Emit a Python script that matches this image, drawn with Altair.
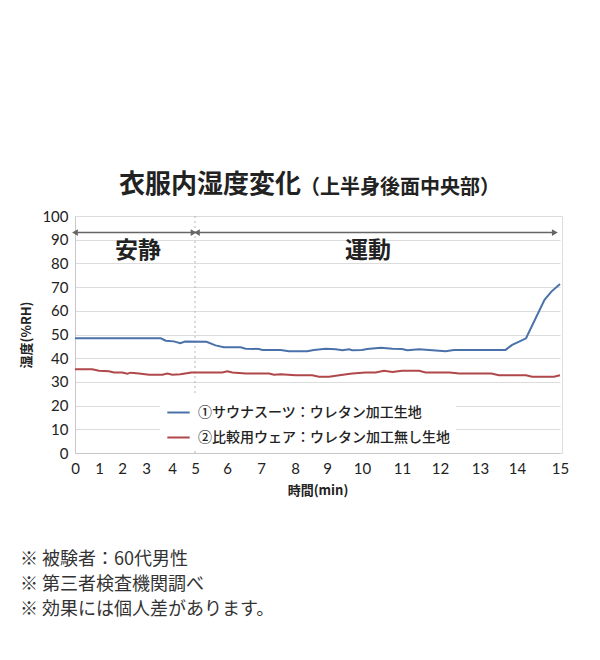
import altair as alt
import pandas as pd

# ---- data -------------------------------------------------------------
minutes = list(range(16))
# pixel positions of the (unevenly spaced) minute ticks in the original chart
tick_px = [0, 24, 47, 71, 97, 120, 152, 186, 220, 252, 287, 327, 365, 405, 442, 485]
y_ticks = list(range(0, 101, 10))

series_names = ["①サウナスーツ：ウレタン加工生地", "②比較用ウェア：ウレタン加工無し生地"]
series_colors = ["#4a72aa", "#b0474b"]

suit_t = [0, 3.57, 3.76, 4.08, 4.36, 4.57, 5.36, 5.64, 5.90, 6.40, 6.55, 6.94, 7.04,
          7.58, 7.82, 8.38, 8.59, 8.96, 9.25, 9.44, 9.63, 9.72, 10.0, 10.13, 10.47,
          10.76, 11.0, 11.14, 11.45, 11.71, 12.14, 12.35, 13.69, 13.87, 14.05, 14.21,
          14.64, 14.80, 15.0]
suit_v = [48.4, 48.4, 47.4, 47.1, 46.3, 47.0, 46.9, 45.4, 44.6, 44.6, 44.0, 43.9, 43.5,
          43.5, 42.9, 42.9, 43.5, 44.0, 43.8, 43.4, 43.8, 43.4, 43.5, 43.9, 44.4,
          44.0, 43.9, 43.4, 43.8, 43.5, 42.9, 43.5, 43.5, 45.6, 47.0, 48.4,
          64.6, 68.1, 71.3]

comp_t = [0, 0.72, 1.0, 1.43, 1.65, 2.01, 2.22, 2.36, 2.71, 3.12, 3.63, 3.82, 4.01,
          4.36, 4.85, 5.85, 6.01, 6.16, 6.55, 7.24, 7.38, 7.58, 8.02, 8.54, 8.75,
          9.06, 9.35, 9.72, 10.09, 10.34, 10.55, 10.76, 11.0, 11.45, 11.62, 12.24,
          12.48, 13.31, 13.51, 14.21, 14.35, 14.86, 15.0]
comp_v = [35.3, 35.3, 34.7, 34.5, 34.0, 34.0, 33.5, 33.9, 33.5, 33.0, 33.0, 33.5, 33.0,
          33.2, 34.0, 34.0, 34.5, 34.0, 33.5, 33.5, 33.0, 33.2, 32.8, 32.8, 32.2,
          32.2, 32.8, 33.5, 34.0, 34.0, 34.7, 34.2, 34.7, 34.7, 34.0, 34.0,
          33.5, 33.5, 32.8, 32.8, 32.2, 32.2, 32.8]

phase_split = [5]
arrow_start = [0, 5.06]
arrow_end = [4.94, 14.88]
arrow_level = [93, 93]
phase_labels = ["安静", "運動"]

title_main = "衣服内湿度変化"
title_sub = "（上半身後面中央部）"
notes = ["※ 被験者：60代男性", "※ 第三者検査機関調べ", "※ 効果には個人差があります。"]

# ---- tables -----------------------------------------------------------
df = pd.concat([
    pd.DataFrame({"t": suit_t, "v": suit_v, "series": series_names[0]}),
    pd.DataFrame({"t": comp_t, "v": comp_v, "series": series_names[1]}),
])
df_arrow = pd.DataFrame({"s": arrow_start, "e": arrow_end, "y": arrow_level})
df_split = pd.DataFrame({"t": phase_split})

JP = "Noto Sans CJK JP"

xscale = alt.Scale(domain=minutes, range=tick_px, nice=False, zero=False)
yscale = alt.Scale(domain=[0, 100], nice=False)

xaxis = alt.Axis(values=minutes, tickCount=16, grid=False, ticks=False, domainColor="#c8c8c8",
                 labelFont="Lato", labelFontSize=15, labelColor="#222", labelPadding=8,
                 labelFlush=False, labelOverlap=False, titleFont=JP, titleFontSize=13,
                 titleFontWeight="bold", titleColor="#222", titlePadding=8)
yaxis = alt.Axis(values=y_ticks, tickCount=11, grid=True, gridColor="#dcdcdc",
                 ticks=False, domainColor="#c8c8c8", labelFont="Lato", labelFontSize=15,
                 labelColor="#222", labelPadding=7, labelOverlap=False, labelFlush=False,
                 titleFont=JP, titleFontSize=13,
                 titleFontWeight="bold", titleColor="#222", titlePadding=8)


def X(field):
    return alt.X(field, scale=xscale, axis=xaxis, title="時間(min)")


def Y(field):
    return alt.Y(field, scale=yscale, axis=yaxis, title="湿度(%RH)")


lines = alt.Chart(df).mark_line(strokeWidth=2).encode(
    x=X("t:Q"),
    y=Y("v:Q"),
    color=alt.Color("series:N",
                    scale=alt.Scale(domain=series_names, range=series_colors),
                    legend=alt.Legend(title=None, orient="none", legendX=85, legendY=178,
                                      fillColor="white", padding=6,
                                      symbolType="stroke", symbolSize=500,
                                      symbolStrokeWidth=2, labelFont=JP,
                                      labelFontSize=14, labelFontWeight=500,
                                      labelColor="#222", labelOffset=7, rowPadding=5,
                                      labelLimit=400)),
)

split = alt.Chart(df_split).mark_rule(color="#b5b5b5", strokeDash=[2, 3], strokeWidth=1).encode(
    x=X("t:Q")
)

arrow_line = alt.Chart(df_arrow).mark_rule(color="#666", strokeWidth=1.5).encode(
    x=X("s:Q"), x2="e:Q", y=Y("y:Q")
)
head_l = alt.Chart(df_arrow).mark_point(shape="triangle-left", filled=True, size=45,
                                         color="#666", opacity=1).encode(
    x=X("s:Q"), y=Y("y:Q")
)
head_r = alt.Chart(df_arrow).mark_point(shape="triangle-right", filled=True, size=45,
                                         color="#666", opacity=1).encode(
    x=X("e:Q"), y=Y("y:Q")
)

phase_rest = alt.Chart(pd.DataFrame({"label": [phase_labels[0]]})).mark_text(
    font=JP, fontSize=23, fontWeight="bold", color="#222", align="center", baseline="middle"
).encode(text="label:N", x=alt.value(63), y=alt.value(35))
phase_ex = alt.Chart(pd.DataFrame({"label": [phase_labels[1]]})).mark_text(
    font=JP, fontSize=23, fontWeight="bold", color="#222", align="center", baseline="middle"
).encode(text="label:N", x=alt.value(293), y=alt.value(35))

t_main = alt.Chart(pd.DataFrame({"label": [title_main]})).mark_text(
    font=JP, fontSize=26, fontWeight="bold", color="#222", align="left", baseline="middle"
).encode(text="label:N", x=alt.value(44), y=alt.value(-31))
t_sub = alt.Chart(pd.DataFrame({"label": [title_sub]})).mark_text(
    font=JP, fontSize=20, fontWeight="bold", color="#222", align="left", baseline="middle"
).encode(text="label:N", x=alt.value(225), y=alt.value(-28))

notes_text = alt.Chart(pd.DataFrame({"label": ["\n".join(notes)]})).mark_text(
    font=JP, fontSize=18, color="#333", align="left", baseline="alphabetic",
    lineBreak="\n", lineHeight=25
).encode(text="label:N", x=alt.value(-55), y=alt.value(349))

chart = alt.layer(
    split, arrow_line, head_l, head_r, lines, phase_rest, phase_ex, t_main, t_sub, notes_text
).properties(
    width=487, height=237,
    autosize=alt.AutoSizeParams(type="none"),
    padding={"left": 67, "top": 208, "right": 30, "bottom": 190},
).configure_view(stroke=None).configure(background="white")

chart.save("out.html", embed_options={"renderer": "svg", "actions": False})
